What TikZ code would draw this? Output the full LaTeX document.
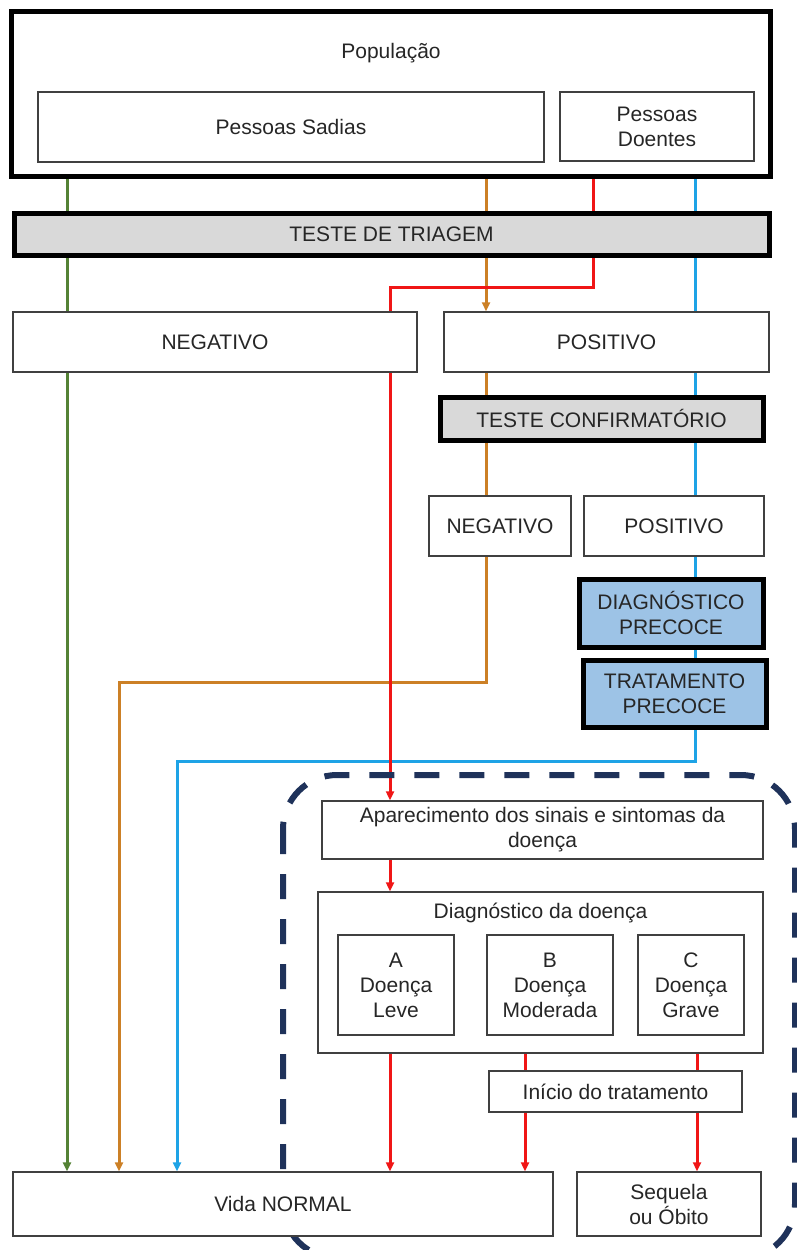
\documentclass[tikz,border=0pt]{standalone}
\usepackage{fontspec}
\setmainfont{Liberation Sans}
\usetikzlibrary{arrows.meta,backgrounds}
\definecolor{lgreen}{RGB}{84,130,53}
\definecolor{lorange}{RGB}{204,128,38}
\definecolor{lred}{RGB}{240,22,22}
\definecolor{lblue}{RGB}{30,163,230}
\definecolor{boxgray}{RGB}{217,217,217}
\definecolor{boxblue}{RGB}{157,195,230}
\definecolor{zonenavy}{RGB}{31,50,90}
\tikzset{
	every node/.style={font=\fontsize{10.5}{12.5}\selectfont, text=black!85},
	flowbox/.style={draw=black!75, line width=0.75pt, fill=white, align=center, inner sep=0pt},
	thickbox/.style={flowbox, draw=black, line width=2.5pt},
	plainflow/.style={line width=1.5pt},
	flow/.style={plainflow, -{Triangle[length=4.5pt,width=4pt]}},
	zone/.style={draw=zonenavy, line width=3pt, dash pattern=on 12.5pt off 10pt, rounded corners=27pt}
}

\begin{document}
\begin{tikzpicture}[x=0.5pt, y=-0.5pt]
	%%%%% START %%%%%
	
	\useasboundingbox (0,0) rectangle (797,1250);
	
	\node[thickbox, minimum width=379.5pt, minimum height=82.5pt] (pop) at (390.5,93.5) {};
	\node (poptitle) at (391,53) {População};
	\node[flowbox, minimum width=253pt, minimum height=35pt] (sadias) at (291,127) {Pessoas Sadias};
	\node[flowbox, minimum width=97pt, minimum height=34.5pt] (doentes) at (657,126.5) {Pessoas\\Doentes};
	
	\node[thickbox, fill=boxgray, minimum width=377.5pt, minimum height=21pt] (triagem) at (391.5,234) {TESTE DE TRIAGEM};
	\node[flowbox, minimum width=202pt, minimum height=30pt] (neg1) at (215,342) {NEGATIVO};
	\node[flowbox, minimum width=162.5pt, minimum height=30pt] (pos1) at (606.5,342) {POSITIVO};
	
	\node[thickbox, fill=boxgray, minimum width=161.5pt, minimum height=21.5pt] (confirm) at (601.5,418.5) {TESTE CONFIRMATÓRIO};
	\node[flowbox, minimum width=71pt, minimum height=30pt] (neg2) at (500,526) {NEGATIVO};
	\node[flowbox, minimum width=90pt, minimum height=30pt] (pos2) at (674,526) {POSITIVO};
	\node[thickbox, fill=boxblue, minimum width=92pt, minimum height=34pt] (diagprec) at (671,613) {DIAGNÓSTICO\\PRECOCE};
	\node[thickbox, fill=boxblue, minimum width=91.5pt, minimum height=33.5pt] (tratprec) at (674.5,693.5) {TRATAMENTO\\PRECOCE};
	
	\node[flowbox, minimum width=220.5pt, minimum height=29pt] (aparec) at (542.5,830) {Aparecimento dos sinais e sintomas da\\doença};
	\node[flowbox, minimum width=222.5pt, minimum height=80.5pt] (diag) at (540.5,972.5) {};
	\node (diagtitle) at (540.5,913) {Diagnóstico da doença};
	\node[flowbox, minimum width=58pt, minimum height=50pt] (leve) at (396,985) {A\\Doença\\Leve};
	\node[flowbox, minimum width=63pt, minimum height=50pt] (moderada) at (550,985) {B\\Doença\\Moderada};
	\node[flowbox, minimum width=53pt, minimum height=50pt] (grave) at (691,985) {C\\Doença\\Grave};
	\node[flowbox, minimum width=126.5pt, minimum height=20.5pt] (inicio) at (615.5,1091.5) {Início do tratamento};
	
	\node[flowbox, minimum width=270pt, minimum height=32pt] (vida) at (283,1204) {Vida NORMAL};
	\node[flowbox, minimum width=92pt, minimum height=32pt] (sequela) at (669,1204) {Sequela\\ou Óbito};
	
	% x positions and turns of the lines
	\coordinate (xgreen) at (67,0);
	\coordinate (xorange) at (486,0);
	\coordinate (xred) at (593,0);
	\coordinate (xblue) at (695,0);
	\coordinate (xmod) at (525,0);
	\coordinate (xgrave) at (697,0);
	\coordinate (redturn) at (390,287);
	\coordinate (orangeturn) at (119,682);
	\coordinate (blueturn) at (177,761);
	
	\begin{scope}[on background layer]
		\draw[flow, lgreen] (sadias.south -| xgreen) -- (vida.north -| xgreen);
		
		\draw[flow, lorange] (sadias.south -| xorange) -- (pos1.north -| xorange);
		\draw[plainflow, lorange] (pos1.south -| xorange) -- (neg2.north -| xorange);
		\draw[flow, lorange] (neg2.south -| xorange) |- (orangeturn) -- (vida.north -| orangeturn);
		
		\draw[flow, lblue] (doentes.south -| xblue) |- (blueturn) -- (vida.north -| blueturn);
		
		\draw[flow, lred] (doentes.south -| xred) |- (redturn) -- (aparec.north -| redturn);
		\draw[flow, lred] (aparec.south -| redturn) -- (diag.north -| redturn);
		\draw[flow, lred] (leve.south -| redturn) -- (vida.north -| redturn);
		\draw[plainflow, lred] (moderada.south -| xmod) -- (inicio.north -| xmod);
		\draw[flow, lred] (inicio.south -| xmod) -- (vida.north -| xmod);
		\draw[plainflow, lred] (grave.south -| xgrave) -- (inicio.north -| xgrave);
		\draw[flow, lred] (inicio.south -| xgrave) -- (sequela.north -| xgrave);
		
		\draw[zone] (283,775) rectangle (795,1258);
	\end{scope}
	
	%%%%% END %%%%%
\end{tikzpicture}
\end{document}
